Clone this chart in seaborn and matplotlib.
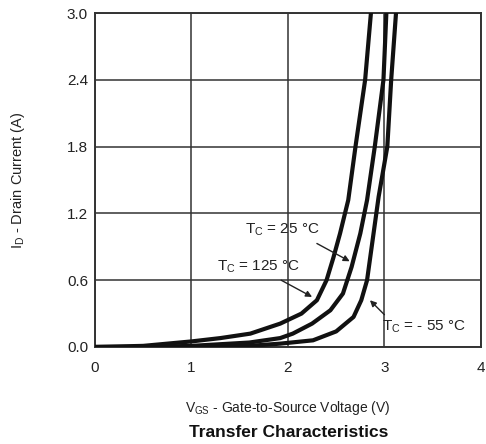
import matplotlib
matplotlib.use("Agg")
import matplotlib.pyplot as plt
import seaborn as sns
import pandas as pd

# Data
v_125 = [0.0, 0.5, 1.0, 1.3, 1.61, 1.92, 2.14, 2.30, 2.40, 2.47, 2.54, 2.625, 2.70, 2.80, 2.86]
i_125 = [0.0, 0.01, 0.05, 0.08, 0.12, 0.21, 0.30, 0.42, 0.60, 0.80, 1.02, 1.32, 1.80, 2.40, 3.00]

v_25 = [0.0, 0.5, 1.0, 1.6, 1.92, 2.05, 2.25, 2.44, 2.57, 2.66, 2.75, 2.82, 2.90, 2.99, 3.02]
i_25 = [0.0, 0.0, 0.01, 0.04, 0.08, 0.12, 0.21, 0.33, 0.48, 0.72, 1.02, 1.32, 1.80, 2.40, 3.00]

v_m55 = [0.0, 1.0, 1.6, 1.92, 2.26, 2.50, 2.68, 2.76, 2.82, 2.86, 2.90, 2.94, 3.03, 3.07, 3.12]
i_m55 = [0.0, 0.0, 0.01, 0.03, 0.06, 0.14, 0.27, 0.42, 0.60, 0.85, 1.10, 1.35, 1.80, 2.40, 3.00]

x_ticks = [0, 1, 2, 3, 4]
y_ticks = [0.0, 0.6, 1.2, 1.8, 2.4, 3.0]

sns.set_theme(style="white")
plt.rcParams['font.family'] = ['Liberation Sans', 'DejaVu Sans']
plt.rcParams['mathtext.default'] = 'regular'

fig = plt.figure(figsize=(4.86, 4.44), dpi=100)
ax = fig.add_axes([0.1955, 0.2185, 0.794, 0.752])

frames = []
for name, v, i in [("125", v_125, i_125), ("25", v_25, i_25), ("-55", v_m55, i_m55)]:
    frames.append(pd.DataFrame({"V": v, "I": i, "T": name}))
df = pd.concat(frames, ignore_index=True)

sns.lineplot(data=df, x="V", y="I", units="T", estimator=None, sort=False,
             color="#111111", linewidth=3.0, ax=ax, legend=False,
             solid_joinstyle="round", zorder=3)

ax.set_xlim(0, 4)
ax.set_ylim(0, 3.0)
ax.set_xticks(x_ticks)
ax.set_xticklabels([str(t) for t in x_ticks])
ax.set_yticks(y_ticks)
ax.set_yticklabels([f"{t:.1f}" for t in y_ticks])
ax.grid(True, color="#333333", linewidth=1.1)
ax.set_axisbelow(True)
for s in ax.spines.values():
    s.set_color("#333333")
    s.set_linewidth(1.4)
ax.tick_params(axis="x", length=0, labelsize=11, colors="#222222", pad=10)
ax.tick_params(axis="y", length=0, labelsize=11, colors="#222222", pad=5)

ax.set_xlabel("V$_{GS}$ - Gate-to-Source Voltage (V)", fontsize=10, color="#222222")
ax.set_ylabel("I$_D$ - Drain Current (A)", fontsize=10.5, color="#222222")
ax.xaxis.set_label_coords(0.5, -0.156)
ax.yaxis.set_label_coords(-0.176, 0.5)

fig.text(0.595, 0.027, "Transfer Characteristics", ha="center", va="center",
         fontsize=12.5, fontweight="bold", color="#111111")

arrow = dict(arrowstyle="-|>", color="#222222", lw=1.0,
             shrinkA=0, shrinkB=0, mutation_scale=9)
txt = dict(fontsize=11, color="#222222", ha="left", va="center")

ax.text(1.55, 1.05, "T$_C$ = 25 °C", **txt)
ax.annotate("", xy=(2.64, 0.77), xytext=(2.30, 0.93), arrowprops=arrow)
ax.text(1.26, 0.72, "T$_C$ = 125 °C", **txt)
ax.annotate("", xy=(2.25, 0.45), xytext=(1.93, 0.60), arrowprops=arrow)
ax.text(2.97, 0.18, "T$_C$ = - 55 °C", **txt)
ax.annotate("", xy=(2.85, 0.42), xytext=(3.0, 0.29), arrowprops=arrow)

fig.savefig("out.png", dpi=100)
